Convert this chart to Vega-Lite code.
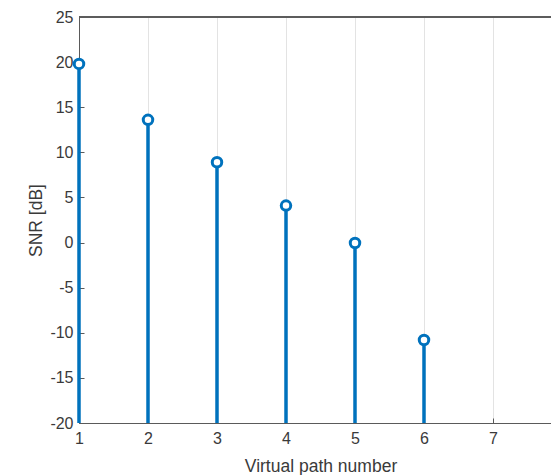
{
  "$schema": "https://vega.github.io/schema/vega-lite/v6.json",
  "autosize": {"type": "none"},
  "padding": {"left": 79, "top": 17, "right": 0, "bottom": 52},
  "width": 483,
  "height": 406,
  "background": "white",
  "view": {"stroke": null},
  "config": {
    "view": {"stroke": null},
    "font": "Liberation Sans",
    "axis": {
      "domainColor": "#5a5a5a",
      "domainWidth": 1,
      "tickColor": "#5a5a5a",
      "tickSize": -5,
      "gridColor": "#e3e3e3",
      "gridWidth": 1,
      "labelColor": "#3a3a3a",
      "labelFontSize": 16,
      "labelFont": "Liberation Sans",
      "labelExpr": "'' + datum.value",
      "labelFlush": false,
      "labelOverlap": false,
      "titleColor": "#3a3a3a",
      "titleFontSize": 17.5,
      "titleFontWeight": "normal",
      "titleFont": "Liberation Sans"
    }
  },
  "data": {
    "values": [
      {"path": 1, "snr": 19.8},
      {"path": 2, "snr": 13.6},
      {"path": 3, "snr": 8.9},
      {"path": 4, "snr": 4.1},
      {"path": 5, "snr": -0.05},
      {"path": 6, "snr": -10.8}
    ]
  },
  "layer": [
    {
      "mark": {"type": "rule", "color": "#5a5a5a", "strokeWidth": 1},
      "encoding": {
        "y": {"datum": 25, "type": "quantitative"}
      }
    },
    {
      "mark": {"type": "rule", "color": "#0072BD", "strokeWidth": 3.5},
      "encoding": {
        "x": {
          "field": "path",
          "type": "quantitative",
          "scale": {"domain": [1, 8], "nice": false, "zero": false},
          "axis": {
            "values": [1, 2, 3, 4, 5, 6, 7],
            "title": "Virtual path number",
            "labelPadding": 12,
            "titleY": 48,
            "titleBaseline": "alphabetic"
          }
        },
        "y": {
          "field": "snr",
          "type": "quantitative",
          "scale": {"domain": [-20, 25], "nice": false, "zero": false},
          "axis": {
            "values": [-20, -15, -10, -5, 0, 5, 10, 15, 20, 25],
            "title": "SNR [dB]",
            "labelPadding": 11,
            "titleX": -38,
            "titleY": 203,
            "titleBaseline": "alphabetic",
            "titleAlign": "center",
            "titleAngle": -90
          }
        },
        "y2": {"datum": -20}
      }
    },
    {
      "mark": {"type": "point", "shape": "circle", "filled": false, "color": "#0072BD", "fill": "white", "fillOpacity": 1, "strokeWidth": 3, "size": 90, "opacity": 1},
      "encoding": {
        "x": {"field": "path", "type": "quantitative"},
        "y": {"field": "snr", "type": "quantitative"}
      }
    }
  ]
}
